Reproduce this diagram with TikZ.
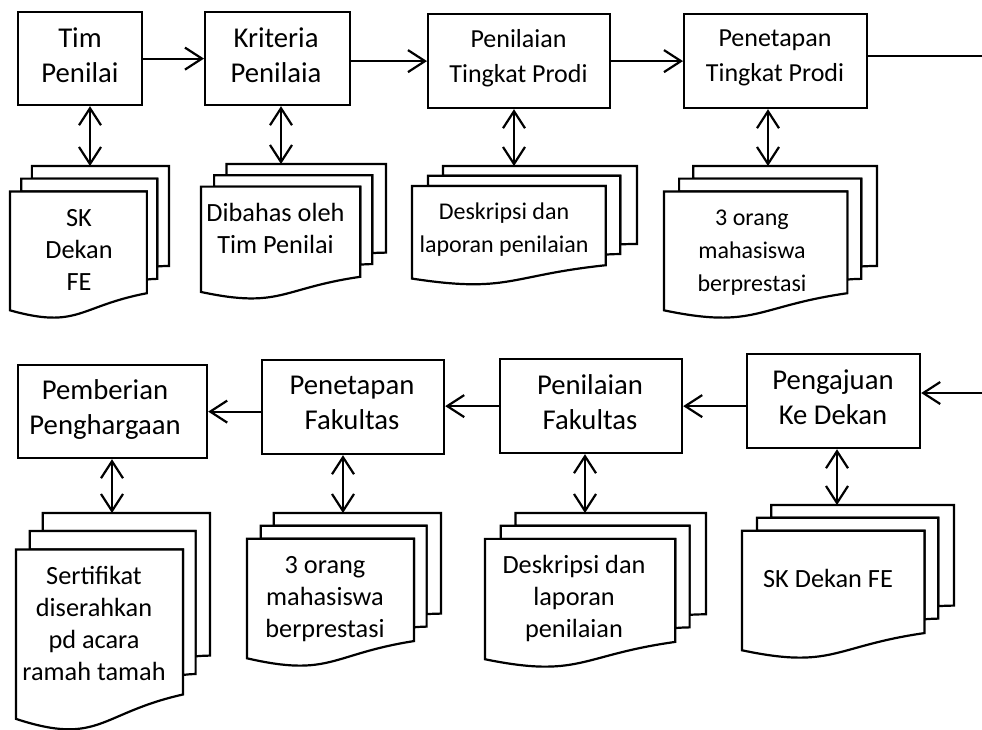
\documentclass[tikz,border=0pt]{standalone}
\usepackage{fontspec}
\setmainfont{Carlito}
\usetikzlibrary{arrows.meta}

\tikzset{
  % stacked "multi-document" flowchart symbol in a unit square (y grows downwards)
  multidoc/.pic={
    \draw[docline] (0.13759,0.08403) -- (0.13759,0) -- (1,0) -- (1,0.66630)
      .. controls (0.96296,0.66630) and (0.92593,0.66977) .. (0.92593,0.66977)
      -- (0.92593,0.08403) -- cycle;
    \draw[docline] (0.07093,0.17014) -- (0.07093,0.08403) -- (0.92593,0.08403) -- (0.92593,0.75241)
      .. controls (0.89343,0.75241) and (0.86088,0.75704) .. (0.86088,0.75704)
      -- (0.86088,0.17014) -- cycle;
    \draw[docline] (0,0.96213) .. controls (0.43046,1.08991) and (0.43046,0.93514) .. (0.86088,0.84806)
      -- (0.86088,0.17014) -- (0,0.17014) -- cycle;
  },
  docline/.style={fill=white, line width=2.2pt, line join=miter},
  stepbox/.style={draw, rectangle, line width=2.2pt, inner sep=0pt, anchor=north west},
  lbl/.style={align=center, inner sep=0pt,
    execute at begin node=\strut, execute at end node=\strut},
  bigtxt/.style={lbl, font=\fontsize{28.7}{35}\selectfont},
  midtxt/.style={lbl, font=\fontsize{26}{35}\selectfont},
  doctxt/.style={lbl, font=\fontsize{26.3}{32}\selectfont},
  smalltxt/.style={lbl, font=\fontsize{24}{33}\selectfont},
  flow/.style={line width=2.2pt, ->},
  link/.style={line width=2.2pt, <->},
}

\begin{document}
\begin{tikzpicture}[x=1pt, y=-1pt, >={Straight Barb[length=17pt,width=22pt]}]
  \fill[white] (0,0) rectangle (982,729);
  \useasboundingbox (0,0) rectangle (982,729);

  % ---------- upper row: process steps ----------
  \node[stepbox, minimum width=124pt, minimum height=93pt] (b1) at (17,11) {};
  \node[stepbox, minimum width=145pt, minimum height=93pt] (b2) at (204,11) {};
  \node[stepbox, minimum width=182pt, minimum height=94pt] (b3) at (427,13) {};
  \node[stepbox, minimum width=183pt, minimum height=94pt] (b4) at (683,13) {};
  \node[bigtxt] (t1) at (80,60.5) {Tim\\Penilai};
  \node[bigtxt] (t2) at (276,60.5) {Kriteria\\Penilaia};
  \node[midtxt] (t3) at (518.5,61.5) {Penilaian\\Tingkat Prodi};
  \node[midtxt] (t4) at (775,60.5) {Penetapan\\Tingkat Prodi};

  % ---------- lower row: process steps ----------
  \node[stepbox, minimum width=189pt, minimum height=93pt] (b5) at (17,364) {};
  \node[stepbox, minimum width=182pt, minimum height=94pt] (b6) at (261,359) {};
  \node[stepbox, minimum width=182pt, minimum height=94pt] (b7) at (499,358) {};
  \node[stepbox, minimum width=173pt, minimum height=94pt] (b8) at (746,353) {};
  \node[bigtxt] (t5) at (105,412.5) {Pemberian\\Penghargaan};
  \node[bigtxt] (t6) at (352,408.5) {Penetapan\\Fakultas};
  \node[bigtxt] (t7) at (590,407.5) {Penilaian\\Fakultas};
  \node[bigtxt] (t8) at (833,402.5) {Pengajuan\\Ke Dekan};

  % ---------- document stacks ----------
  \pic[xscale=159, yscale=150] (d1) at (10,166) {multidoc};
  \pic[xscale=185, yscale=133] (d2) at (201,164) {multidoc};
  \pic[xscale=225, yscale=117] (d3) at (412,166) {multidoc};
  \pic[xscale=213, yscale=150] (d4) at (664,166) {multidoc};
  \pic[xscale=194, yscale=214] (d5) at (16,513) {multidoc};
  \pic[xscale=194, yscale=151] (d6) at (247,513) {multidoc};
  \pic[xscale=221, yscale=152] (d7) at (485,513) {multidoc};
  \pic[xscale=212, yscale=151] (d8) at (742,505) {multidoc};

  \node[doctxt] (n1) at (79,254.5) {SK\\Dekan\\FE};
  \node[doctxt] (n2) at (275.5,233) {Dibahas oleh\\Tim Penilai};
  \node[smalltxt] (n3) at (504,232.5) {Deskripsi dan\\laporan penilaian};
  \node[smalltxt] (n4) at (752,256) {3 orang\\mahasiswa\\berprestasi};
  \node[doctxt] (n5) at (94,628) {Sertifikat\\diserahkan\\pd acara\\ramah tamah};
  \node[doctxt] (n6) at (325,601.5) {3 orang\\mahasiswa\\berprestasi};
  \node[doctxt] (n7) at (574,601.5) {Deskripsi dan\\laporan\\penilaian};
  \node[doctxt] (n8) at (828,581) {SK Dekan FE};

  % top edges of the document stacks where the links land
  \coordinate (a1) at (90,166);
  \coordinate (a2) at (281,164);
  \coordinate (a3) at (514,166);
  \coordinate (a4) at (768,166);
  \coordinate (a5) at (112,513);
  \coordinate (a6) at (343,513);
  \coordinate (a7) at (585,513);
  \coordinate (a8) at (837,505);

  % continuation from the upper row to the lower row
  \coordinate (r1) at (982,56);
  \coordinate (r2) at (982,393);

  % ---------- flow arrows ----------
  \draw[flow] (b1.east) -- (b2.west);
  \draw[flow] (b2.east |- b3.west) -- (b3.west);
  \draw[flow] (b3.east) -- (b4.west);
  \draw[line width=2.2pt] (b4.east |- r1) -- (r1);
  \draw[flow] (r2) -- (b8.east |- r2);
  \draw[flow] (b8.west |- b7.east) -- (b7.east);
  \draw[flow] (b7.west) -- (b7.west -| b6.east);
  \draw[flow] (b6.west |- b5.east) -- (b5.east);

  % ---------- step <-> document links ----------
  \draw[link] (b1.south -| a1) -- (a1);
  \draw[link] (b2.south -| a2) -- (a2);
  \draw[link] (b3.south -| a3) -- (a3);
  \draw[link] (b4.south -| a4) -- (a4);
  \draw[link] (b5.south -| a5) -- (a5);
  \draw[link] (b6.south -| a6) -- (a6);
  \draw[link] (b7.south -| a7) -- (a7);
  \draw[link] (b8.south -| a8) -- (a8);
\end{tikzpicture}
\end{document}
